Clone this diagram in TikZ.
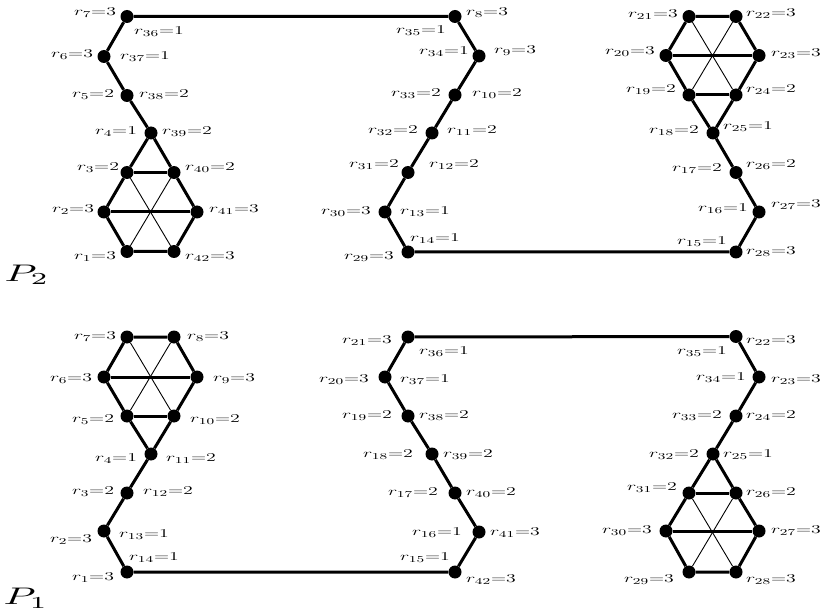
\documentclass[tikz,border=0pt]{standalone}
\usepackage{graphicx}
\newcommand{\lab}[1]{\scalebox{1.65}[1]{$#1$}}
\newcommand{\biglab}[1]{\scalebox{4.1}[2.4]{$#1$}}
\tikzset{
  vtx/.style={circle,fill=black,inner sep=0pt,minimum size=13pt},
  lbl/.style={inner sep=0pt,anchor=center,font=\fontsize{12.5}{14}\selectfont},
  thick edge/.style={line width=3pt},
  thin edge/.style={line width=0.9pt}
}
\begin{document}
\begin{tikzpicture}[x=1pt,y=-1pt]
\useasboundingbox (0,0) rectangle (823,615);
% ================= P2 (top) =================
\node[vtx] (t1) at (127,251.5) {};
\node[vtx] (t2) at (104,212) {};
\node[vtx] (t3) at (127,172.5) {};
\node[vtx] (t4) at (151,133) {};
\node[vtx] (t5) at (127,95.5) {};
\node[vtx] (t6) at (104,56.5) {};
\node[vtx] (t7) at (127,16.5) {};
\node[vtx] (t40) at (174,172.5) {};
\node[vtx] (t41) at (197,212) {};
\node[vtx] (t42) at (174,251.5) {};
\node[vtx] (t8) at (455,16.5) {};
\node[vtx] (t9) at (479,56) {};
\node[vtx] (t10) at (455,95) {};
\node[vtx] (t11) at (432,133) {};
\node[vtx] (t12) at (408,172.5) {};
\node[vtx] (t13) at (385,212) {};
\node[vtx] (t14) at (408,252) {};
\node[vtx] (t15) at (736,252) {};
\node[vtx] (t16) at (759,212) {};
\node[vtx] (t17) at (736,172.5) {};
\node[vtx] (t18) at (713,133) {};
\node[vtx] (t19) at (689,95) {};
\node[vtx] (t20) at (666,55.5) {};
\node[vtx] (t21) at (689,16.5) {};
\node[vtx] (t22) at (736,16.5) {};
\node[vtx] (t23) at (759,55.5) {};
\node[vtx] (t24) at (736,95) {};
\begin{scope}[thick edge]
\draw (t4) -- (t5) -- (t6) -- (t7) -- (t8) -- (t9) -- (t10) -- (t11) -- (t12) -- (t13) -- (t14) -- (t15) -- (t16) -- (t17) -- (t18);
\draw (t4) -- (t3) -- (t2) -- (t1) -- (t42) -- (t41) -- (t40) -- (t4);
\draw (t3) -- (t40); \draw (t2) -- (t41);
\draw (t18) -- (t19) -- (t20) -- (t21) -- (t22) -- (t23) -- (t24) -- (t18);
\draw (t19) -- (t24); \draw (t20) -- (t23);
\end{scope}
\begin{scope}[thin edge]
\draw (t3) -- (t42); \draw (t40) -- (t1);
\draw (t21) -- (t24); \draw (t22) -- (t19);
\end{scope}
% labels P2
\node[lbl] (lt7) at (95,13) {\lab{r_{7}{=}3}};
\node[lbl] (lt36) at (159,32) {\lab{r_{36}{=}1}};
\node[lbl] (lt6) at (72,55) {\lab{r_{6}{=}3}};
\node[lbl] (lt37) at (145,57) {\lab{r_{37}{=}1}};
\node[lbl] (lt5) at (93,95) {\lab{r_{5}{=}2}};
\node[lbl] (lt38) at (164,95) {\lab{r_{38}{=}2}};
\node[lbl] (lt4) at (116,132) {\lab{r_{4}{=}1}};
\node[lbl] (lt39) at (187,132) {\lab{r_{39}{=}2}};
\node[lbl] (lt3) at (98,168) {\lab{r_{3}{=}2}};
\node[lbl] (lt40) at (210,168) {\lab{r_{40}{=}2}};
\node[lbl] (lt2) at (73,210) {\lab{r_{2}{=}3}};
\node[lbl] (lt41) at (234,210) {\lab{r_{41}{=}3}};
\node[lbl] (lt1) at (95,257) {\lab{r_{1}{=}3}};
\node[lbl] (lt42) at (210,257) {\lab{r_{42}{=}3}};
\node[inner sep=0pt] (P2) at (27,275) {\biglab{P_2}};
\node[lbl] (lt8) at (487,13) {\lab{r_{8}{=}3}};
\node[lbl] (lt35) at (421,31) {\lab{r_{35}{=}1}};
\node[lbl] (lt34) at (444,52) {\lab{r_{34}{=}1}};
\node[lbl] (lt9) at (515,51) {\lab{r_{9}{=}3}};
\node[lbl] (lt33) at (416,94) {\lab{r_{33}{=}2}};
\node[lbl] (lt10) at (497,94) {\lab{r_{10}{=}2}};
\node[lbl] (lt32) at (393,131) {\lab{r_{32}{=}2}};
\node[lbl] (lt11) at (472,131) {\lab{r_{11}{=}2}};
\node[lbl] (lt31) at (374,165) {\lab{r_{31}{=}2}};
\node[lbl] (lt12) at (454,165) {\lab{r_{12}{=}2}};
\node[lbl] (lt30) at (346,212) {\lab{r_{30}{=}3}};
\node[lbl] (lt13) at (425,212) {\lab{r_{13}{=}1}};
\node[lbl] (lt14) at (435,239) {\lab{r_{14}{=}1}};
\node[lbl] (lt29) at (369,257) {\lab{r_{29}{=}3}};
\node[lbl] (lt21) at (653,15) {\lab{r_{21}{=}3}};
\node[lbl] (lt22) at (771,14) {\lab{r_{22}{=}3}};
\node[lbl] (lt20) at (630,52) {\lab{r_{20}{=}3}};
\node[lbl] (lt23) at (796,54) {\lab{r_{23}{=}3}};
\node[lbl] (lt19) at (651,90) {\lab{r_{19}{=}2}};
\node[lbl] (lt24) at (771,90) {\lab{r_{24}{=}2}};
\node[lbl] (lt18) at (674,131) {\lab{r_{18}{=}2}};
\node[lbl] (lt25) at (748,127) {\lab{r_{25}{=}1}};
\node[lbl] (lt17) at (697,169) {\lab{r_{17}{=}2}};
\node[lbl] (lt26) at (771,165) {\lab{r_{26}{=}2}};
\node[lbl] (lt16) at (723,209) {\lab{r_{16}{=}1}};
\node[lbl] (lt27) at (796,205) {\lab{r_{27}{=}3}};
\node[lbl] (lt15) at (702,242) {\lab{r_{15}{=}1}};
\node[lbl] (lt28) at (771,252) {\lab{r_{28}{=}3}};
% ================= P1 (bottom) =================
\node[vtx] (b1) at (127,572) {};
\node[vtx] (b2) at (104,531) {};
\node[vtx] (b3) at (127,493) {};
\node[vtx] (b4) at (151,454) {};
\node[vtx] (b5) at (127,416) {};
\node[vtx] (b6) at (104,377) {};
\node[vtx] (b7) at (127,337) {};
\node[vtx] (b8) at (174,337) {};
\node[vtx] (b9) at (197,377) {};
\node[vtx] (b10) at (174,416) {};
\node[vtx] (b15) at (455,572) {};
\node[vtx] (b16) at (479,532) {};
\node[vtx] (b17) at (455,493) {};
\node[vtx] (b18) at (432,454) {};
\node[vtx] (b19) at (408,416) {};
\node[vtx] (b20) at (385,377) {};
\node[vtx] (b21) at (408,337) {};
\node[vtx] (b22) at (736,336.5) {};
\node[vtx] (b23) at (759,377) {};
\node[vtx] (b24) at (736,416) {};
\node[vtx] (b25) at (713,454) {};
\node[vtx] (b26) at (736,493) {};
\node[vtx] (b27) at (759,531) {};
\node[vtx] (b28) at (736,572) {};
\node[vtx] (b29) at (689,572) {};
\node[vtx] (b30) at (666,531) {};
\node[vtx] (b31) at (689,493) {};
\begin{scope}[thick edge]
\draw (b4) -- (b3) -- (b2) -- (b1) -- (b15) -- (b16) -- (b17) -- (b18) -- (b19) -- (b20) -- (b21) -- (b22) -- (b23) -- (b24) -- (b25);
\draw (b4) -- (b5) -- (b6) -- (b7) -- (b8) -- (b9) -- (b10) -- (b4);
\draw (b5) -- (b10); \draw (b6) -- (b9);
\draw (b25) -- (b31) -- (b30) -- (b29) -- (b28) -- (b27) -- (b26) -- (b25);
\draw (b31) -- (b26); \draw (b30) -- (b27);
\end{scope}
\begin{scope}[thin edge]
\draw (b7) -- (b10); \draw (b8) -- (b5);
\draw (b31) -- (b28); \draw (b26) -- (b29);
\end{scope}
% labels P1
\node[lbl] (lb7) at (95,337) {\lab{r_{7}{=}3}};
\node[lbl] (lb8) at (208,337) {\lab{r_{8}{=}3}};
\node[lbl] (lb6) at (71,379) {\lab{r_{6}{=}3}};
\node[lbl] (lb9) at (234,379) {\lab{r_{9}{=}3}};
\node[lbl] (lb5) at (93,420) {\lab{r_{5}{=}2}};
\node[lbl] (lb10) at (215,420) {\lab{r_{10}{=}2}};
\node[lbl] (lb4) at (116,459) {\lab{r_{4}{=}1}};
\node[lbl] (lb11) at (191,459) {\lab{r_{11}{=}2}};
\node[lbl] (lb3) at (93,492) {\lab{r_{3}{=}2}};
\node[lbl] (lb12) at (168,492) {\lab{r_{12}{=}2}};
\node[lbl] (lb2) at (71,540) {\lab{r_{2}{=}3}};
\node[lbl] (lb13) at (144,535) {\lab{r_{13}{=}1}};
\node[lbl] (lb14) at (154,558) {\lab{r_{14}{=}1}};
\node[lbl] (lb1) at (93,578) {\lab{r_{1}{=}3}};
\node[inner sep=0pt] (P1) at (26,598) {\biglab{P_1}};
\node[lbl] (lb21) at (367,341) {\lab{r_{21}{=}3}};
\node[lbl] (lb36) at (444,352) {\lab{r_{36}{=}1}};
\node[lbl] (lb20) at (344,380) {\lab{r_{20}{=}3}};
\node[lbl] (lb37) at (425,380) {\lab{r_{37}{=}1}};
\node[lbl] (lb19) at (367,416) {\lab{r_{19}{=}2}};
\node[lbl] (lb38) at (444,416) {\lab{r_{38}{=}2}};
\node[lbl] (lb18) at (388,455) {\lab{r_{18}{=}2}};
\node[lbl] (lb39) at (468,455) {\lab{r_{39}{=}2}};
\node[lbl] (lb17) at (413,493) {\lab{r_{17}{=}2}};
\node[lbl] (lb40) at (491,493) {\lab{r_{40}{=}2}};
\node[lbl] (lb16) at (437,533) {\lab{r_{16}{=}1}};
\node[lbl] (lb41) at (515,533) {\lab{r_{41}{=}3}};
\node[lbl] (lb15) at (425,558) {\lab{r_{15}{=}1}};
\node[lbl] (lb42) at (491,580) {\lab{r_{42}{=}3}};
\node[lbl] (lb22) at (771,341) {\lab{r_{22}{=}3}};
\node[lbl] (lb35) at (702,352) {\lab{r_{35}{=}1}};
\node[lbl] (lb34) at (721,378) {\lab{r_{34}{=}1}};
\node[lbl] (lb23) at (796,380) {\lab{r_{23}{=}3}};
\node[lbl] (lb33) at (697,416) {\lab{r_{33}{=}2}};
\node[lbl] (lb24) at (771,416) {\lab{r_{24}{=}2}};
\node[lbl] (lb32) at (674,455) {\lab{r_{32}{=}2}};
\node[lbl] (lb25) at (748,455) {\lab{r_{25}{=}1}};
\node[lbl] (lb31) at (652,488) {\lab{r_{31}{=}2}};
\node[lbl] (lb26) at (771,493) {\lab{r_{26}{=}2}};
\node[lbl] (lb30) at (627,531) {\lab{r_{30}{=}3}};
\node[lbl] (lb27) at (796,531) {\lab{r_{27}{=}3}};
\node[lbl] (lb29) at (649,580) {\lab{r_{29}{=}3}};
\node[lbl] (lb28) at (771,580) {\lab{r_{28}{=}3}};
\end{tikzpicture}
\end{document}
